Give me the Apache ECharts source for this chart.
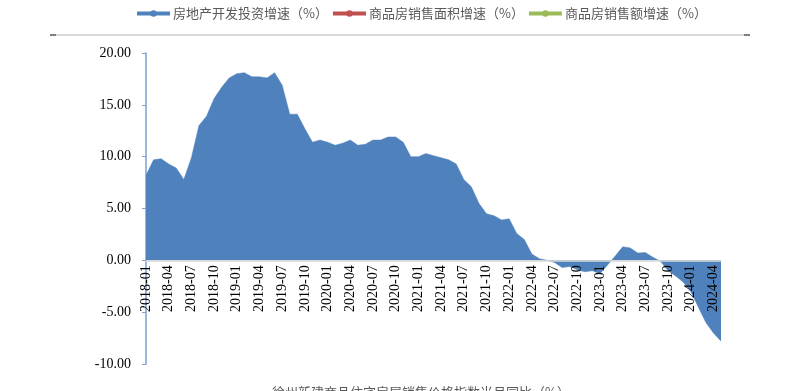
<!DOCTYPE html>
<html lang="zh">
<head>
    <meta charset="UTF-8">
    <title>房地产开发投资增速</title>
    <style>
        html, body { margin: 0; padding: 0; background: #fff; }
        #chart { width: 809px; height: 391px; }
    </style>
    <script src="https://cdn.jsdelivr.net/npm/echarts@6/dist/echarts.min.js"></script>
</head>
<body>
<div id="chart"></div>
<script>
    // months 2018-01 .. 2024-05
    const months = [];
    for (let y = 2018; y <= 2024; y++) {
        for (let m = 1; m <= 12; m++) {
            if (y === 2024 && m > 5) break;
            months.push(y + '-' + String(m).padStart(2, '0'));
        }
    }

    // 房地产开发投资增速（%）
    const investGrowth = [
        8.2, 9.7, 9.8, 9.3, 8.9, 7.8, 9.9, 13.0, 13.9, 15.6, 16.7, 17.6,   // 2018
        18.0, 18.1, 17.7, 17.7, 17.6, 18.1, 16.9, 14.1, 14.1, 12.7, 11.4, 11.6, // 2019
        11.4, 11.1, 11.3, 11.6, 11.1, 11.2, 11.6, 11.6, 11.9, 11.9, 11.4, 10.0, // 2020
        10.0, 10.3, 10.1, 9.9, 9.7, 9.3, 7.8, 7.1, 5.5, 4.5, 4.3, 3.9,      // 2021
        4.0, 2.6, 2.0, 0.6, 0.15, 0.0, -0.2, -0.7, -0.6, -0.9, -1.1, -1.0,  // 2022
        -1.3, -0.45, 0.4, 1.3, 1.2, 0.7, 0.75, 0.3, -0.1, -1.0, -1.5, -2.1, // 2023
        -3.0, -4.5, -6.0, -7.0, -7.8                                        // 2024
    ];
    // 商品房销售面积增速 / 商品房销售额增速: legend only, no visible data
    const salesAreaGrowth = [];
    const salesValueGrowth = [];

    const yTicks = { min: -10, max: 20, interval: 5 };
    const seriesNames = ['房地产开发投资增速（%）', '商品房销售面积增速（%）', '商品房销售额增速（%）'];
    const colors = ['#4f81bd', '#c0504d', '#9bbb59'];

    const serif = 'Liberation Serif, Times New Roman, serif';
    const cjk = 'Noto Sans CJK SC, sans-serif';

    // grid box, used to put the category axis on the zero line
    const gridTop = 53, gridBottom = 27, chartH = 391;
    const plotH = chartH - gridTop - gridBottom;
    const zeroFromBottom = plotH * (0 - yTicks.min) / (yTicks.max - yTicks.min);

    const chart = echarts.init(document.getElementById('chart'));
    chart.setOption({
        animation: false,
        color: colors,
        legend: {
            top: 2,
            left: 130,
            itemWidth: 33,
            itemHeight: 8,
            itemGap: 3,
            textStyle: { fontFamily: cjk, fontSize: 13, color: '#595959', padding: [0, 0, 0, -2] },
            lineStyle: { width: 4 },
            data: seriesNames
        },
        grid: { left: 146, right: 88, top: gridTop, bottom: gridBottom, outerBoundsMode: 'none', containLabel: false },
        xAxis: {
            type: 'category',
            data: months,
            boundaryGap: false,
            z: 5,
            offset: -zeroFromBottom,
            axisLine: { onZero: false, lineStyle: { color: '#d9d9d9', width: 1.5 } },
            axisTick: { show: false },
            axisLabel: {
                interval: 2,
                rotate: 90,
                margin: 5,
                fontFamily: serif,
                fontSize: 14,
                color: '#000'
            },
            splitLine: { show: false }
        },
        yAxis: {
            type: 'value',
            min: yTicks.min,
            max: yTicks.max,
            interval: yTicks.interval,
            axisLine: { show: true, lineStyle: { color: '#7aa0d0', width: 1.5 } },
            axisTick: { show: true, inside: false, length: 4, lineStyle: { color: '#7aa0d0' } },
            axisLabel: {
                margin: 15,
                fontFamily: serif,
                fontSize: 14,
                color: '#000',
                formatter: v => v.toFixed(2)
            },
            splitLine: { show: false }
        },
        series: [
            {
                name: seriesNames[0],
                type: 'line',
                data: investGrowth,
                symbol: 'circle',
                symbolSize: 7,
                showSymbol: false,
                lineStyle: { width: 0.5, color: colors[0] },
                areaStyle: { color: colors[0], opacity: 1 },
                z: 2
            },
            {
                name: seriesNames[1],
                type: 'line',
                data: salesAreaGrowth,
                symbol: 'circle',
                symbolSize: 7,
                lineStyle: { width: 3, color: colors[1] }
            },
            {
                name: seriesNames[2],
                type: 'line',
                data: salesValueGrowth,
                symbol: 'circle',
                symbolSize: 7,
                lineStyle: { width: 3, color: colors[2] }
            }
        ],
        graphic: [
            { type: 'line', shape: { x1: 50, y1: 35, x2: 750, y2: 35 }, style: { stroke: '#d9d9d9', lineWidth: 2 } },
            { type: 'line', shape: { x1: 50, y1: 35, x2: 56, y2: 35 }, style: { stroke: '#7f7f7f', lineWidth: 2 } },
            { type: 'line', shape: { x1: 744, y1: 35, x2: 750, y2: 35 }, style: { stroke: '#7f7f7f', lineWidth: 2 } },
            {
                type: 'text', left: 272, top: 386,
                style: { text: '徐州新建商品住宅房屋销售价格指数当月同比（%）', fill: '#595959', font: '13px ' + cjk }
            }
        ]
    });
</script>
</body>
</html>
